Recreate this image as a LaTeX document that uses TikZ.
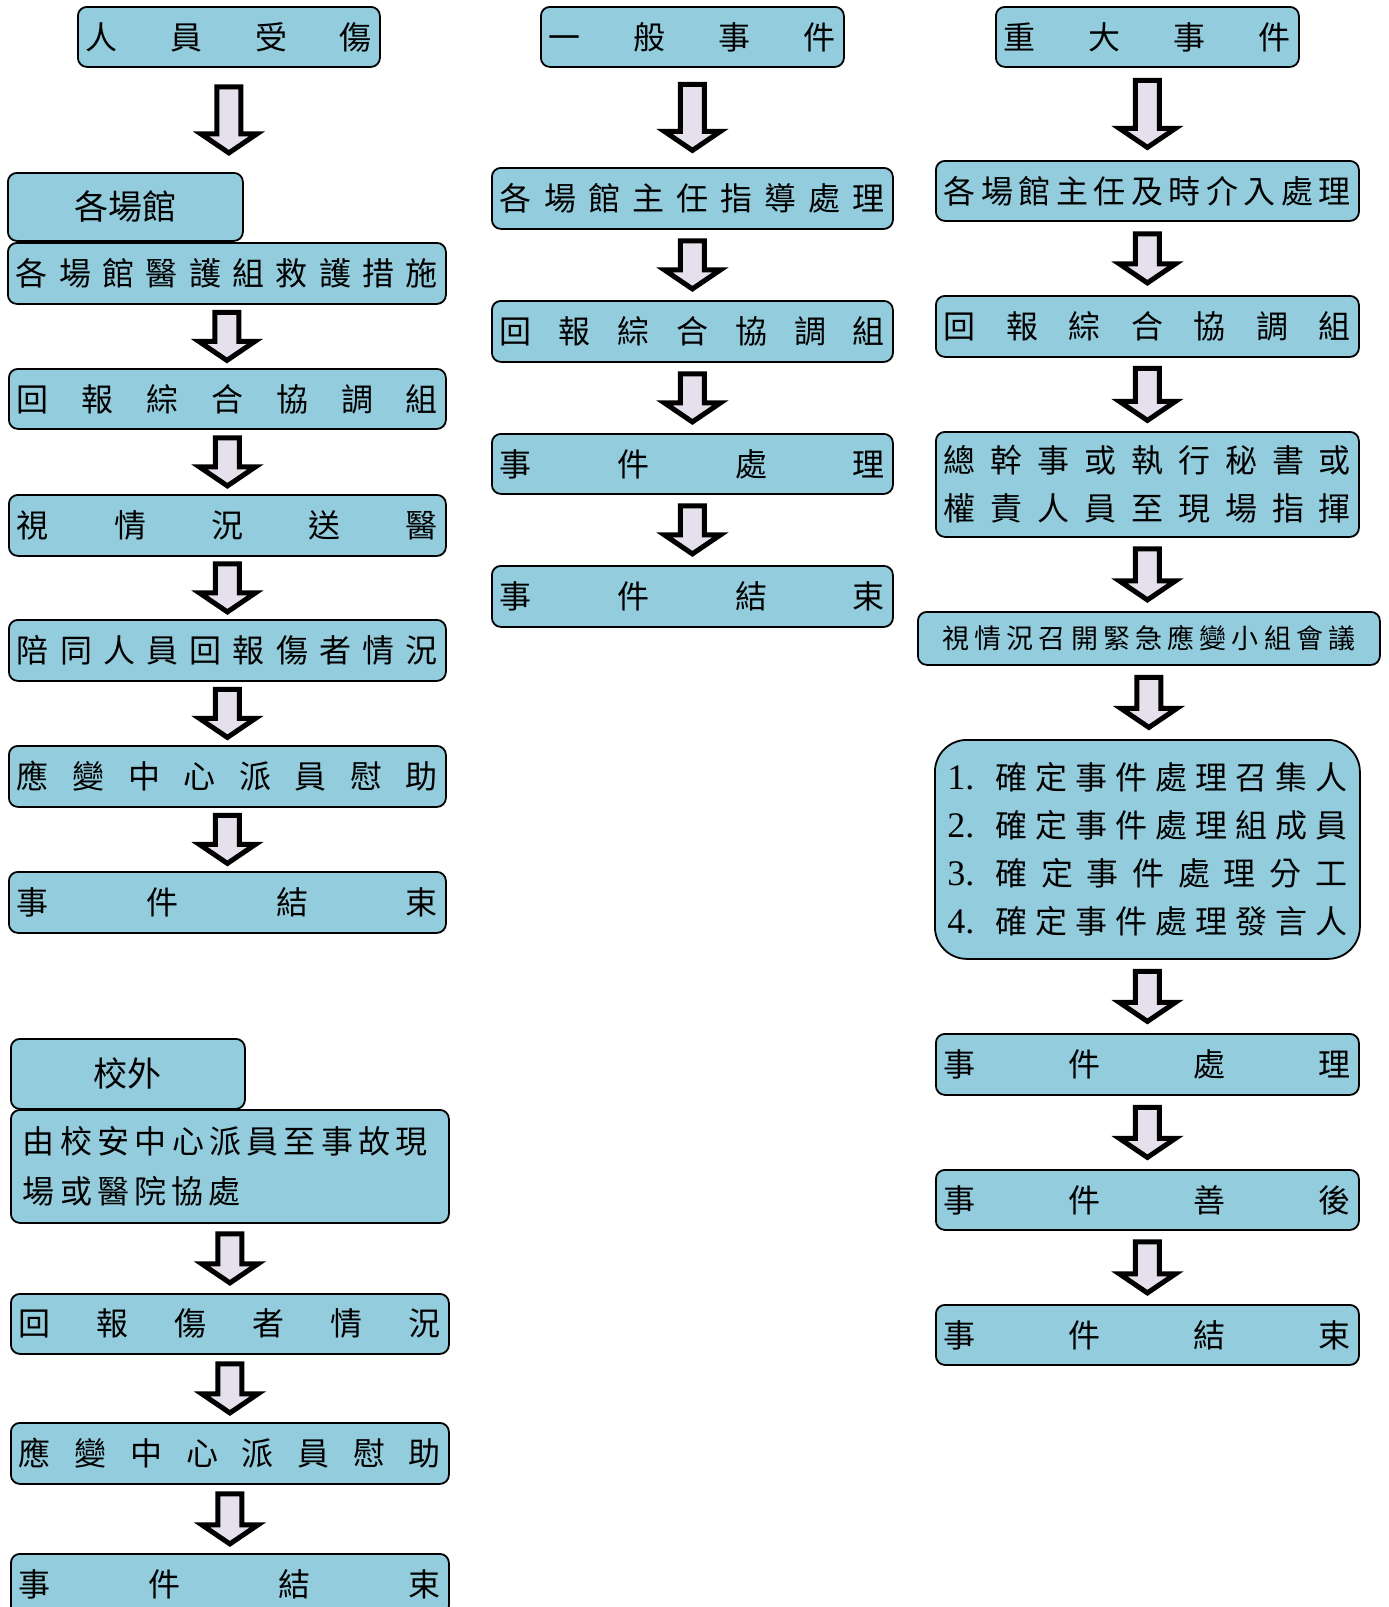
\documentclass[tikz,border=0pt]{standalone}
\usepackage{fontspec}
\newfontfamily\cjk{Noto Sans CJK TC}
\newfontfamily\numfont{Liberation Serif}
\usetikzlibrary{calc}
\definecolor{boxfill}{HTML}{93CDDD}
\definecolor{arrowfill}{HTML}{E5E0EC}
\newcommand\bx[6]{\node[box,minimum width=#4pt,minimum height=#5pt] (#1) at (#2,#3) {#6};}
\newcommand\numln[2]{\hbox to 400pt{\makebox[48pt][l]{\numfont\fontsize{36}{48}\selectfont #1}\hbox to 352pt{#2}}}
\begin{document}
\begin{tikzpicture}[x=1pt,y=-1pt,
  box/.style={draw=black, line width=1.8pt, fill=boxfill, rounded corners=9pt,
    inner sep=0pt, anchor=north west, font=\cjk\fontsize{32}{48}\selectfont},
  big/.style={font=\cjk\fontsize{34}{40}\selectfont},
  blk/.style={draw=black, line width=5pt, fill=arrowfill, miter limit=4,
    to path={let \p1=(\tikztostart), \p2=(\tikztotarget), \p3=($(\p1)!0.5!(\p2)$) in
      (\x1-12pt,\y3+#1pt/2) -- (\x1+12pt,\y3+#1pt/2) -- (\x1+12pt,\y3-#1pt/2+19pt)
      -- (\x1+28pt,\y3-#1pt/2+19pt) -- (\x1,\y3-#1pt/2) -- (\x1-28pt,\y3-#1pt/2+19pt)
      -- (\x1-12pt,\y3-#1pt/2+19pt) -- cycle}},
  blk/.default=48]
\useasboundingbox (0,0) rectangle (1389,1607);
\clip (0,0) rectangle (1389,1607);
% ---------- column 1 ----------
\bx{A1}{77}{6}{302}{60}{\hbox to 286pt{人\hfill 員\hfill 受\hfill 傷}}
\node[box,big,minimum width=235pt,minimum height=68pt] (A2) at (7,172) {各場館};
\bx{A3}{7}{242}{438}{61}{\hbox to 422pt{各\hfill 場\hfill 館\hfill 醫\hfill 護\hfill 組\hfill 救\hfill 護\hfill 措\hfill 施}}
\bx{A4}{8}{368}{437}{60}{\hbox to 421pt{回\hfill 報\hfill 綜\hfill 合\hfill 協\hfill 調\hfill 組}}
\bx{A5}{8}{494}{437}{61}{\hbox to 421pt{視\hfill 情\hfill 況\hfill 送\hfill 醫}}
\bx{A6}{8}{619}{437}{61}{\hbox to 421pt{陪\hfill 同\hfill 人\hfill 員\hfill 回\hfill 報\hfill 傷\hfill 者\hfill 情\hfill 況}}
\bx{A7}{8}{745}{437}{61}{\hbox to 421pt{應\hfill 變\hfill 中\hfill 心\hfill 派\hfill 員\hfill 慰\hfill 助}}
\bx{A8}{8}{871}{437}{61}{\hbox to 421pt{事\hfill 件\hfill 結\hfill 束}}
\draw[blk=66] (A1.south) to (A2.north);
\draw[blk] (A3.south) to (A4.north);
\draw[blk] (A4.south) to (A5.north);
\draw[blk] (A5.south) to (A6.north);
\draw[blk] (A6.south) to (A7.north);
\draw[blk] (A7.south) to (A8.north);
% ---------- column 1, lower ----------
\node[box,big,minimum width=234pt,minimum height=70pt] (B1) at (10,1038) {校外};
\node[box,minimum width=438pt,minimum height=113pt,text width=414pt,align=left,
  font=\cjk\fontsize{32}{50}\selectfont] (B2) at (10,1109)
  {\hbox to 405pt{由\hfill 校\hfill 安\hfill 中\hfill 心\hfill 派\hfill 員\hfill 至\hfill 事\hfill 故\hfill 現}\\
   \hbox to 218pt{場\hfill 或\hfill 醫\hfill 院\hfill 協\hfill 處}};
\bx{B3}{10}{1293}{438}{60}{\hbox to 422pt{回\hfill 報\hfill 傷\hfill 者\hfill 情\hfill 況}}
\bx{B4}{10}{1422}{438}{61}{\hbox to 422pt{應\hfill 變\hfill 中\hfill 心\hfill 派\hfill 員\hfill 慰\hfill 助}}
\bx{B5}{10}{1553}{438}{61}{\hbox to 422pt{事\hfill 件\hfill 結\hfill 束}}
\draw[blk=49] (B2.south) to (B3.north);
\draw[blk=49] (B3.south) to (B4.north);
\draw[blk=50] (B4.south) to (B5.north);
% ---------- column 2 ----------
\bx{C1}{540}{6}{303}{60}{\hbox to 287pt{一\hfill 般\hfill 事\hfill 件}}
\bx{C2}{491}{167}{401}{61}{\hbox to 385pt{各\hfill 場\hfill 館\hfill 主\hfill 任\hfill 指\hfill 導\hfill 處\hfill 理}}
\bx{C3}{491}{300}{401}{61}{\hbox to 385pt{回\hfill 報\hfill 綜\hfill 合\hfill 協\hfill 調\hfill 組}}
\bx{C4}{491}{433}{401}{60}{\hbox to 385pt{事\hfill 件\hfill 處\hfill 理}}
\bx{C5}{491}{565}{401}{61}{\hbox to 385pt{事\hfill 件\hfill 結\hfill 束}}
\draw[blk=66] (C1.south) to (C2.north);
\draw[blk] (C2.south) to (C3.north);
\draw[blk] (C3.south) to (C4.north);
\draw[blk] (C4.south) to (C5.north);
% ---------- column 3 ----------
\bx{D1}{995}{6}{303}{60}{\hbox to 287pt{重\hfill 大\hfill 事\hfill 件}}
\bx{D2}{935}{160}{423}{60}{\hbox to 407pt{各\hfill 場\hfill 館\hfill 主\hfill 任\hfill 及\hfill 時\hfill 介\hfill 入\hfill 處\hfill 理}}
\bx{D3}{935}{295}{423}{61}{\hbox to 407pt{回\hfill 報\hfill 綜\hfill 合\hfill 協\hfill 調\hfill 組}}
\node[box,minimum width=423pt,minimum height=105pt,align=center] (D4) at (935,431)
  {\hbox to 407pt{總\hfill 幹\hfill 事\hfill 或\hfill 執\hfill 行\hfill 秘\hfill 書\hfill 或}\\
   \hbox to 407pt{權\hfill 責\hfill 人\hfill 員\hfill 至\hfill 現\hfill 場\hfill 指\hfill 揮}};
\node[box,minimum width=462pt,minimum height=53pt,font=\cjk\fontsize{27}{32}\selectfont] (D5) at (917,611)
  {\hbox to 413pt{視\hfill 情\hfill 況\hfill 召\hfill 開\hfill 緊\hfill 急\hfill 應\hfill 變\hfill 小\hfill 組\hfill 會\hfill 議}};
\node[box,minimum width=425pt,minimum height=219pt,rounded corners=32pt,align=center] (D6) at (934,739)
  {\numln{1.}{確\hfill 定\hfill 事\hfill 件\hfill 處\hfill 理\hfill 召\hfill 集\hfill 人}\\
   \numln{2.}{確\hfill 定\hfill 事\hfill 件\hfill 處\hfill 理\hfill 組\hfill 成\hfill 員}\\
   \numln{3.}{確\hfill 定\hfill 事\hfill 件\hfill 處\hfill 理\hfill 分\hfill 工}\\
   \numln{4.}{確\hfill 定\hfill 事\hfill 件\hfill 處\hfill 理\hfill 發\hfill 言\hfill 人}};
\bx{D7}{935}{1033}{423}{61}{\hbox to 407pt{事\hfill 件\hfill 處\hfill 理}}
\bx{D8}{935}{1169}{423}{60}{\hbox to 407pt{事\hfill 件\hfill 善\hfill 後}}
\bx{D9}{935}{1304}{423}{60}{\hbox to 407pt{事\hfill 件\hfill 結\hfill 束}}
\draw[blk=67] (D1.south) to (D2.north);
\draw[blk=49] (D2.south) to (D3.north);
\draw[blk=52] (D3.south) to (D4.north);
\draw[blk=51] (D4.south) to (D5.north);
\draw[blk=50] (D5.south) to (D6.north);
\draw[blk=50] (D6.south) to (D7.north);
\draw[blk=50] (D7.south) to (D8.north);
\draw[blk=51] (D8.south) to (D9.north);
\end{tikzpicture}
\end{document}
